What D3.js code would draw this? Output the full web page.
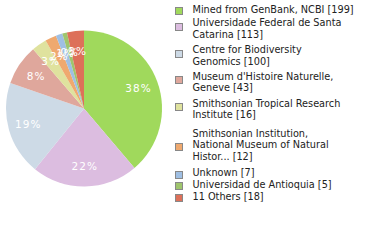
<!DOCTYPE html>
<html><head><meta charset="utf-8">
<script src="https://cdn.jsdelivr.net/npm/d3@7"></script>
<style>body{margin:0;background:#fff;}svg{display:block;}</style>
</head><body>
<svg id="c" width="380" height="240"></svg>
<script>
const labels = [
  ["Mined from GenBank, NCBI [199]"],
  ["Universidade Federal de Santa", "Catarina [113]"],
  ["Centre for Biodiversity", "Genomics [100]"],
  ["Museum d'Histoire Naturelle,", "Geneve [43]"],
  ["Smithsonian Tropical Research", "Institute [16]"],
  ["Smithsonian Institution,", "National Museum of Natural", "Histor... [12]"],
  ["Unknown [7]"],
  ["Universidad de Antioquia [5]"],
  ["11 Others [18]"]
];
const values = [199, 113, 100, 43, 16, 12, 7, 5, 18];
const colors = ["#a0d95c", "#dcbde0", "#cddae6", "#dfa79c", "#dfe29e", "#efa96f", "#9fbfe3", "#9fc56d", "#dd7059"];

const svg = d3.select("#c");
const cx = 84, cy = 108.5, R = 78;
const total = d3.sum(values);
const pie = d3.pie().sort(null).value(d => d);
const arcs = pie(values);
const arc = d3.arc().innerRadius(0).outerRadius(R);
const labelArc = d3.arc().innerRadius(58).outerRadius(58);
const g = svg.append("g").attr("transform", `translate(${cx},${cy})`);
g.selectAll("path").data(arcs).join("path")
  .attr("d", arc).attr("fill", (d, i) => colors[i]);
g.selectAll("text").data(arcs).join("text")
  .attr("transform", d => `translate(${labelArc.centroid(d)})`)
  .attr("text-anchor", "middle").attr("dy", "0.35em")
  .attr("fill", "#fff").attr("font-family", "DejaVu Sans").attr("font-size", 10.5)
  .attr("letter-spacing", 1)
  .text(d => Math.floor(d.value / total * 100) + "%");

// legend
const lg = svg.append("g");
const lineH = 11.6;
const pad = {1: 0, 2: 1.8, 3: 5};
const sqOff = {1: 2, 2: -1.5, 3: 2};
let y = 12.7;
labels.forEach((lines, i) => {
  const n = lines.length;
  if (i > 0) y += pad[n];
  const e = lg.append("g");
  const mid = y - 4 + (n - 1) * lineH / 2 + sqOff[n];
  e.append("rect").attr("x", 175.5).attr("y", Math.round(mid - 3.5) + 0.5)
    .attr("width", 7).attr("height", 7)
    .attr("fill", colors[i]).attr("stroke", "#888").attr("stroke-width", 1);
  lines.forEach((t, j) => {
    e.append("text").attr("x", 192.5).attr("y", y + j * lineH)
      .attr("font-family", "DejaVu Sans Condensed, DejaVu Sans").attr("font-size", 10.8)
      .attr("fill", "#222").text(t);
  });
  y += n * lineH + pad[n];
});
</script>
</body></html>
